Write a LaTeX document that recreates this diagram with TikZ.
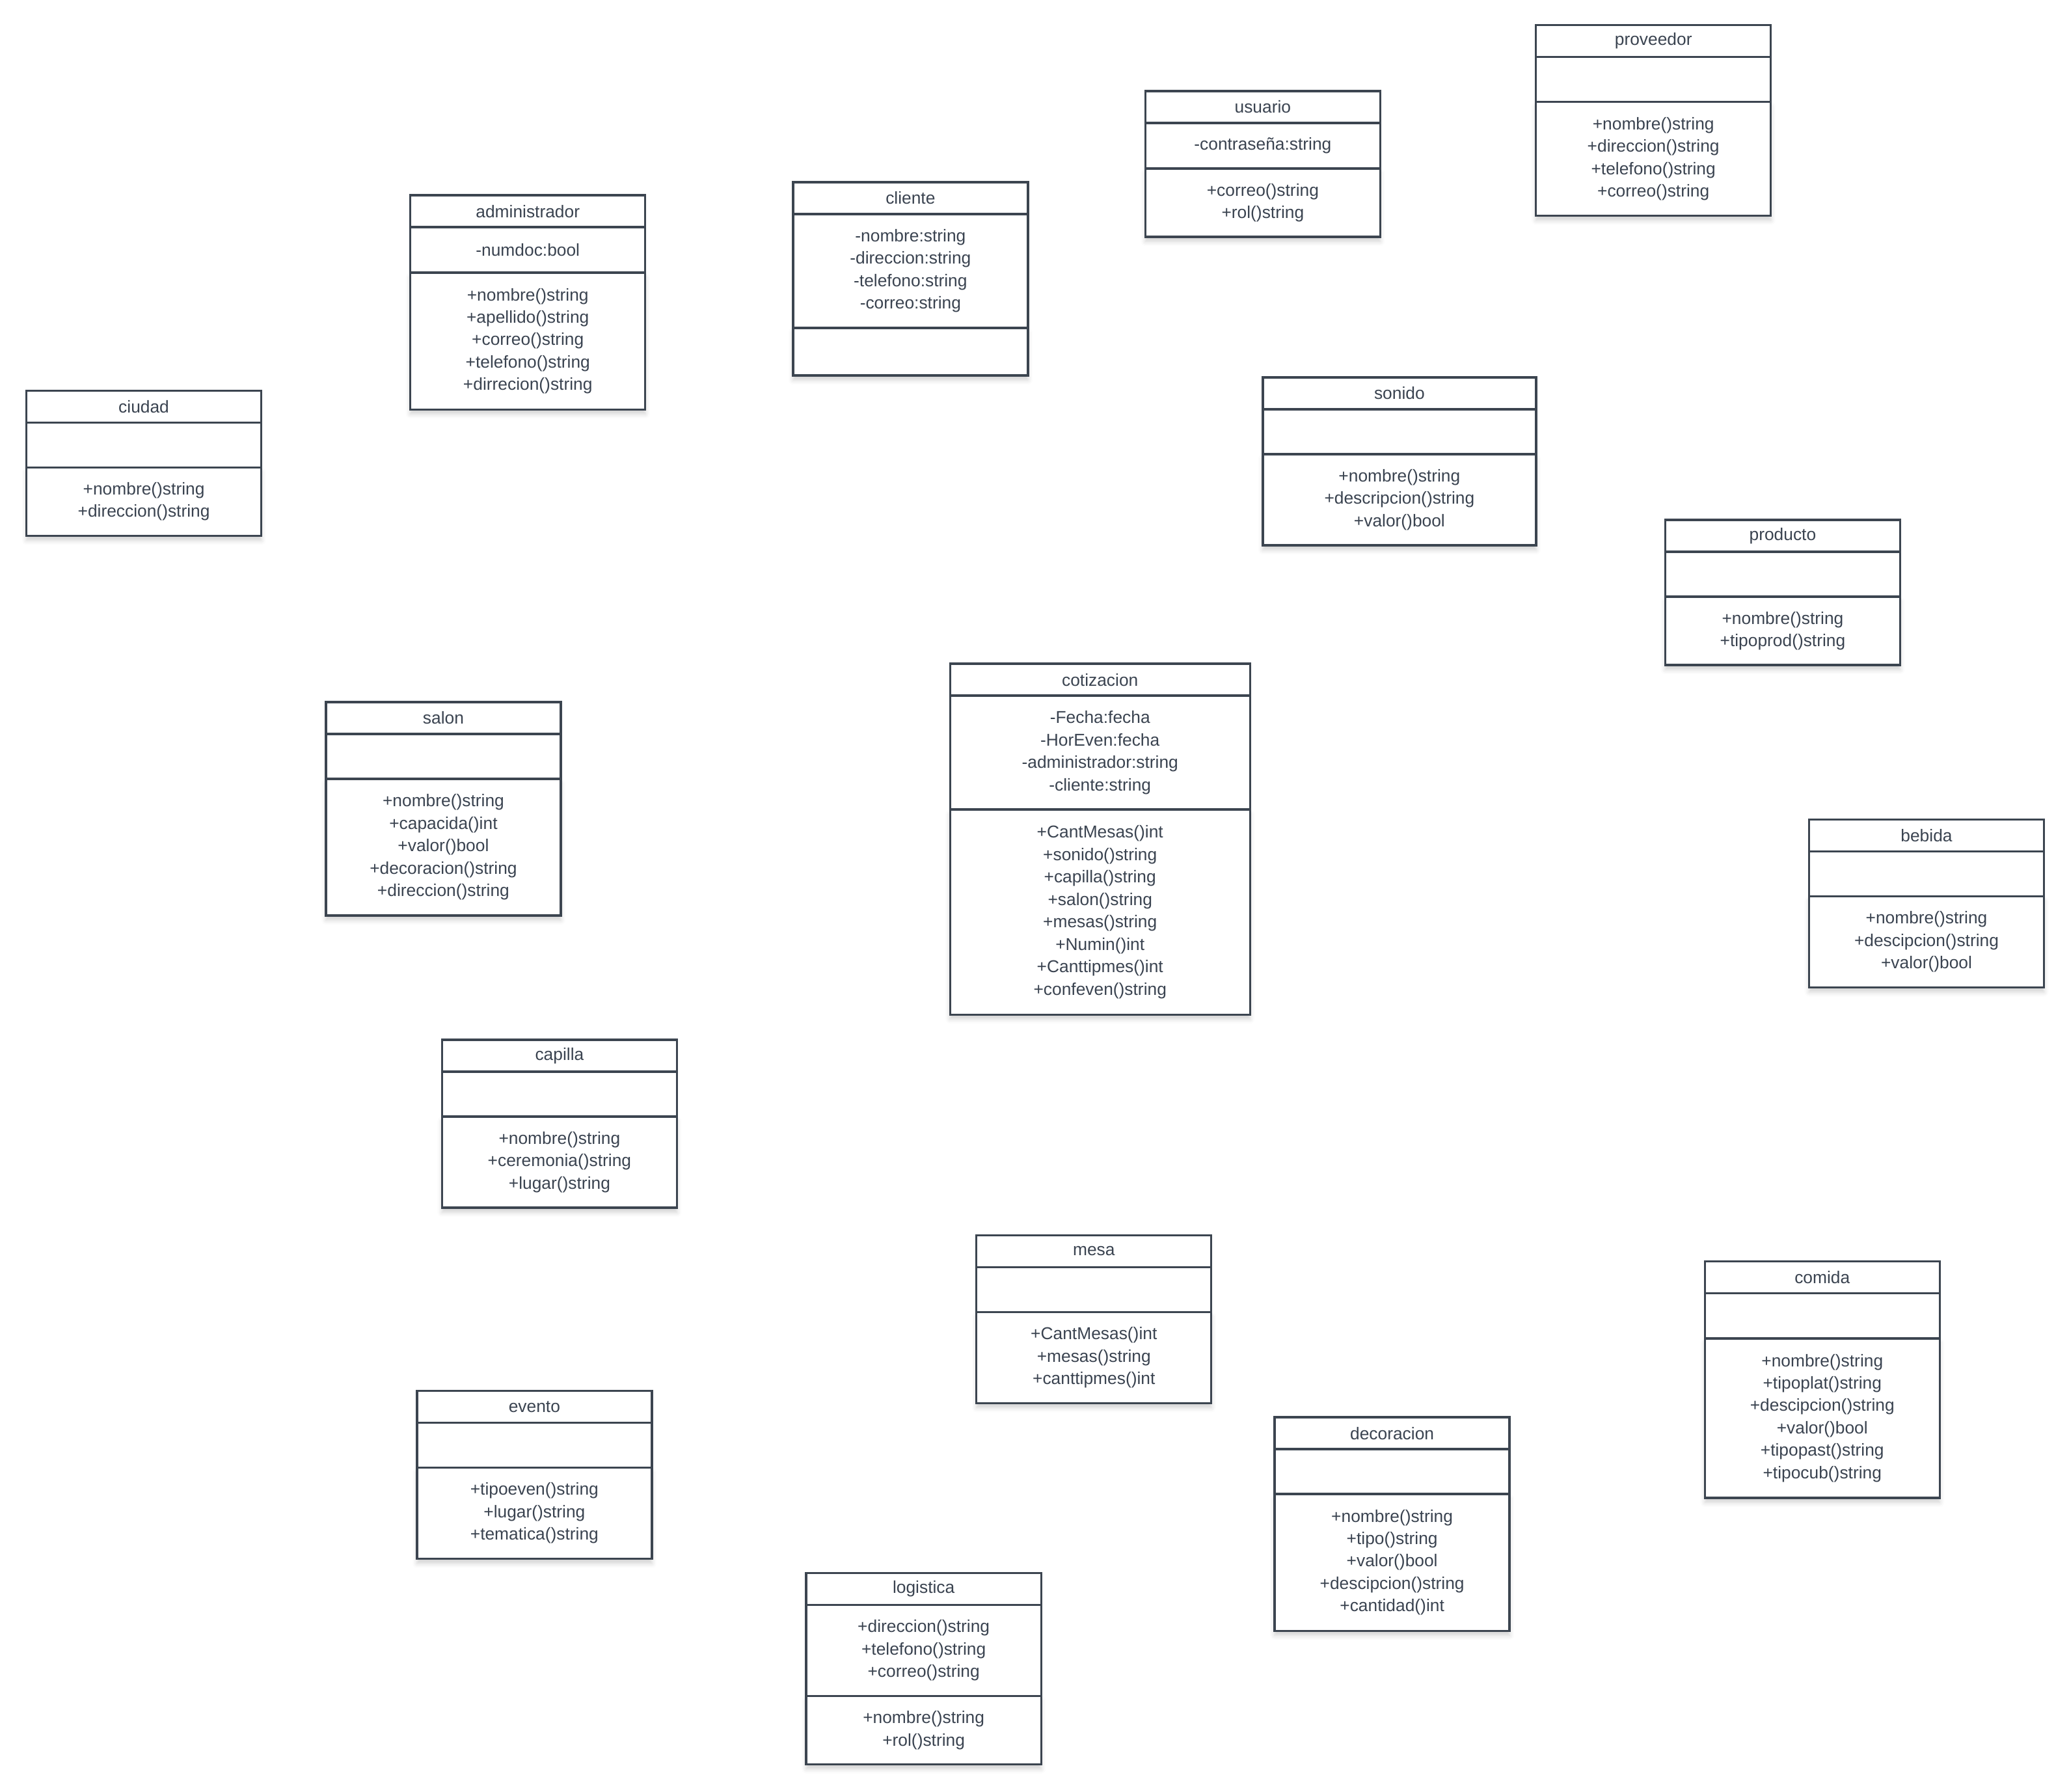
\documentclass[tikz,border=0pt]{standalone}
\usepackage{fontspec}
\setmainfont{Liberation Sans}
\usetikzlibrary{positioning,shadows.blur}
\definecolor{umlline}{HTML}{3C4550}
\definecolor{umltext}{HTML}{3A4350}
\tikzset{
	classbox/.style={draw=umlline, line width=0.95pt, fill=white, inner sep=0pt,
		outer sep=0pt, align=center, text=umltext, font=\fontsize{7.5}{9.8}\selectfont,
		minimum width=3.61cm},
	ttl/.style={classbox, minimum height=0.49cm},
	sect/.style={classbox, minimum height={max(0.69cm,0.35cm*#1+0.35cm)}},
	last/.style={blur shadow={shadow xshift=0pt, shadow yshift=-2pt,
		shadow blur radius=2pt, shadow opacity=18}}
}
\begin{document}
\begin{tikzpicture}[x=0.02028cm, y=-0.02028cm]
	\useasboundingbox (0,0) rectangle (1568,1357.5);

	% ciudad
	\node[ttl, anchor=north west] (ciudad-t) at (20,296) {ciudad};
	\node[sect=0, below=0pt of ciudad-t] (ciudad-a) {};
	\node[sect=2, last, below=0pt of ciudad-a] (ciudad-m) {+nombre()string\\+direccion()string};

	% administrador
	\node[ttl, anchor=north west] (admin-t) at (311,148) {administrador};
	\node[sect=1, below=0pt of admin-t] (admin-a) {-numdoc:bool};
	\node[sect=5, last, below=0pt of admin-a] (admin-m) {+nombre()string\\+apellido()string\\+correo()string\\+telefono()string\\+dirrecion()string};

	% cliente
	\node[ttl, anchor=north west] (cliente-t) at (601,138) {cliente};
	\node[sect=4, below=0pt of cliente-t] (cliente-a) {-nombre:string\\-direccion:string\\-telefono:string\\-correo:string};
	\node[sect=0, last, minimum height=0.73cm, below=0pt of cliente-a] (cliente-m) {};

	% usuario
	\node[ttl, anchor=north west] (usuario-t) at (868,69) {usuario};
	\node[sect=1, below=0pt of usuario-t] (usuario-a) {-contraseña:string};
	\node[sect=2, last, below=0pt of usuario-a] (usuario-m) {+correo()string\\+rol()string};

	% proveedor
	\node[ttl, anchor=north west] (prov-t) at (1164,19) {proveedor};
	\node[sect=0, below=0pt of prov-t] (prov-a) {};
	\node[sect=4, last, below=0pt of prov-a] (prov-m) {+nombre()string\\+direccion()string\\+telefono()string\\+correo()string};

	% sonido
	\node[ttl, minimum width=4.2cm, anchor=north west] (sonido-t) at (957,286) {sonido};
	\node[sect=0, minimum width=4.2cm, below=0pt of sonido-t] (sonido-a) {};
	\node[sect=3, last, minimum width=4.2cm, below=0pt of sonido-a] (sonido-m) {+nombre()string\\+descripcion()string\\+valor()bool};

	% producto
	\node[ttl, anchor=north west] (prod-t) at (1262,394) {producto};
	\node[sect=0, below=0pt of prod-t] (prod-a) {};
	\node[sect=2, last, below=0pt of prod-a] (prod-m) {+nombre()string\\+tipoprod()string};

	% cotizacion
	\node[ttl, minimum width=4.61cm, anchor=north west] (cotiz-t) at (720,503) {cotizacion};
	\node[sect=4, minimum width=4.61cm, below=0pt of cotiz-t] (cotiz-a) {-Fecha:fecha\\-HorEven:fecha\\-administrador:string\\-cliente:string};
	\node[sect=8, last, minimum width=4.61cm, below=0pt of cotiz-a] (cotiz-m) {+CantMesas()int\\+sonido()string\\+capilla()string\\+salon()string\\+mesas()string\\+Numin()int\\+Canttipmes()int\\+confeven()string};

	% salon
	\node[ttl, anchor=north west] (salon-t) at (247,532) {salon};
	\node[sect=0, below=0pt of salon-t] (salon-a) {};
	\node[sect=5, last, below=0pt of salon-a] (salon-m) {+nombre()string\\+capacida()int\\+valor()bool\\+decoracion()string\\+direccion()string};

	% bebida
	\node[ttl, anchor=north west] (bebida-t) at (1371,621) {bebida};
	\node[sect=0, below=0pt of bebida-t] (bebida-a) {};
	\node[sect=3, last, below=0pt of bebida-a] (bebida-m) {+nombre()string\\+descipcion()string\\+valor()bool};

	% capilla
	\node[ttl, anchor=north west] (capilla-t) at (335,788) {capilla};
	\node[sect=0, below=0pt of capilla-t] (capilla-a) {};
	\node[sect=3, last, below=0pt of capilla-a] (capilla-m) {+nombre()string\\+ceremonia()string\\+lugar()string};

	% mesa
	\node[ttl, anchor=north west] (mesa-t) at (740,936) {mesa};
	\node[sect=0, below=0pt of mesa-t] (mesa-a) {};
	\node[sect=3, last, below=0pt of mesa-a] (mesa-m) {+CantMesas()int\\+mesas()string\\+canttipmes()int};

	% comida
	\node[ttl, anchor=north west] (comida-t) at (1292,956) {comida};
	\node[sect=0, below=0pt of comida-t] (comida-a) {};
	\node[sect=6, last, below=0pt of comida-a] (comida-m) {+nombre()string\\+tipoplat()string\\+descipcion()string\\+valor()bool\\+tipopast()string\\+tipocub()string};

	% evento
	\node[ttl, anchor=north west] (evento-t) at (316,1054) {evento};
	\node[sect=0, below=0pt of evento-t] (evento-a) {};
	\node[sect=3, last, below=0pt of evento-a] (evento-m) {+tipoeven()string\\+lugar()string\\+tematica()string};

	% decoracion
	\node[ttl, anchor=north west] (decor-t) at (966,1074) {decoracion};
	\node[sect=0, below=0pt of decor-t] (decor-a) {};
	\node[sect=5, last, below=0pt of decor-a] (decor-m) {+nombre()string\\+tipo()string\\+valor()bool\\+descipcion()string\\+cantidad()int};

	% logistica
	\node[ttl, anchor=north west] (logis-t) at (611,1192) {logistica};
	\node[sect=3, below=0pt of logis-t] (logis-a) {+direccion()string\\+telefono()string\\+correo()string};
	\node[sect=2, last, below=0pt of logis-a] (logis-m) {+nombre()string\\+rol()string};
\end{tikzpicture}
\end{document}
